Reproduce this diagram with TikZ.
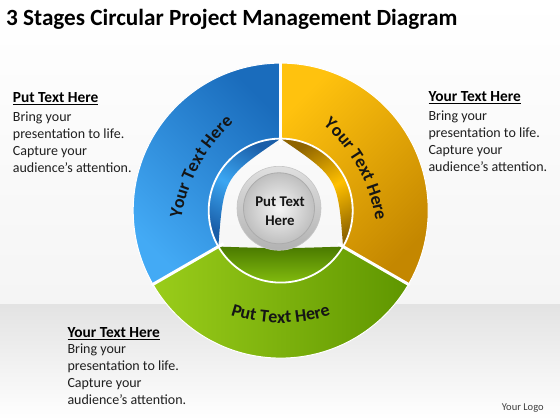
\documentclass[tikz,border=0pt]{standalone}
\usepackage{fontspec}
\setmainfont{Carlito}
\usetikzlibrary{decorations.text,calc}
\definecolor{blueL}{HTML}{43AAF5}
\definecolor{blueD}{HTML}{1A6CBC}
\definecolor{orangeL}{HTML}{FFC20E}
\definecolor{orangeD}{HTML}{C48700}
\definecolor{greenL}{HTML}{9ACD1A}
\definecolor{greenD}{HTML}{5F9600}
\definecolor{blueID}{HTML}{1A5EA8}
\definecolor{blueIL}{HTML}{3BA6F2}
\definecolor{orangeID}{HTML}{8F6400}
\definecolor{orangeIL}{HTML}{FFC000}
\definecolor{greenID}{HTML}{4A7A00}
\definecolor{greenIL}{HTML}{92CE12}
\definecolor{txt}{HTML}{151515}
\newcommand\segfont{\fontsize{18}{21}\selectfont\bfseries}
\begin{document}
\begin{tikzpicture}[x=1pt,y=1pt,
  headtxt/.style={anchor=base west, inner sep=0, font=\fontsize{15.4}{18}\selectfont\bfseries},
  bodytxt/.style={anchor=base west, inner sep=0, font=\fontsize{14}{17}\selectfont, text=black!88},
  centertxt/.style={anchor=base, inner sep=0, font=\fontsize{14.8}{17}\selectfont\bfseries, text=txt},
  gapline/.style={white, line width=3},
  segtext/.style={decorate, decoration={text along path, text align=center, text color=txt}}
]
\useasboundingbox (0,0) rectangle (560,420);
\shade[top color=white, bottom color=gray!8] (0,115) rectangle (560,420);
\shade[top color=gray!22, bottom color=white] (0,0) rectangle (560,115);

% title
\node[anchor=base west, inner sep=0, font=\fontsize{23.2}{27}\selectfont\bfseries] (title) at (6,394.3) {3 Stages Circular Project Management Diagram};

\begin{scope}[shift={(280.7,209.4)}]
  % outer segments
  \shade[top color=blueD, bottom color=blueL, shading angle=-45]
    (90:147.5) arc[start angle=90, end angle=210, radius=147.5] -- (210:72) arc[start angle=210, end angle=90, radius=72] -- cycle;
  \shade[top color=orangeL, bottom color=orangeD, shading angle=45]
    (90:147.5) arc[start angle=90, end angle=-30, radius=147.5] -- (-30:72) arc[start angle=-30, end angle=90, radius=72] -- cycle;
  \shade[left color=greenL, right color=greenD]
    (210:147.5) arc[start angle=210, end angle=330, radius=147.5] -- (330:72) arc[start angle=330, end angle=210, radius=72] -- cycle;
  % inner segments
  \shade[top color=blueID, bottom color=blueID, middle color=blueIL, shading angle=-30]
    (90:72) arc[start angle=90, end angle=210, radius=72] .. controls (150:66) .. (90:72) -- cycle;
  \shade[top color=orangeID, bottom color=orangeID, middle color=orangeIL, shading angle=30]
    (330:72) arc[start angle=330, end angle=450, radius=72] .. controls (30:66) .. (330:72) -- cycle;
  \shade[top color=greenID, bottom color=greenIL]
    (210:72) arc[start angle=210, end angle=330, radius=72] .. controls (270:38) .. (210:72) -- cycle;
  % white separators
  \draw[gapline] (90:66) -- (90:149);
  \draw[gapline] (210:66) -- (210:149);
  \draw[gapline] (330:66) -- (330:149);
  \draw[white, line width=1.8] (0,0) circle[radius=72];
  \draw[white, line width=1] (0,0) circle[radius=147.5];
  % curved segment texts
  \path[segtext, decoration={text={|\segfont|Your Text Here}}]
    ($(331.5:67)+(171.5:160)$) arc[start angle=171.5, end angle=131.5, radius=160];
  \path[segtext, decoration={text={|\segfont|Your Text Here}}]
    ($(208.7:72)+(48.7:160)$) arc[start angle=48.7, end angle=8.7, radius=160];
  \path[segtext, decoration={text={|\segfont|Put Text Here}}]
    ($(0,47.6)+(250:160)$) arc[start angle=250, end angle=290, radius=160];
  % center button
  \shade[top color=gray!25, bottom color=gray!60] (-1.7,2.3) circle[radius=42];
  \draw[gray!45, line width=0.6] (-1.7,2.3) circle[radius=42];
  \shade[inner color=gray!8, outer color=gray!50] (-1.7,2.3) circle[radius=35.5];
  \draw[gray!65, line width=0.8] (-1.7,2.3) circle[radius=35.5];
\end{scope}

\node[centertxt] (c1) at (280,213.3) {Put Text};
\node[centertxt] (c2) at (280,194.7) {Here};

% left block
\node[headtxt] (lh) at (12.7,317.5) {\underline{Put Text Here}};
\node[bodytxt] (l1) at (12.7,298.5) {Bring your};
\node[bodytxt] (l2) at (12.7,281.5) {presentation to life.};
\node[bodytxt] (l3) at (12.7,264.5) {Capture your};
\node[bodytxt] (l4) at (12.7,247.5) {audience’s attention.};
% right block
\node[headtxt] (rh) at (428.3,318) {\underline{Your Text Here}};
\node[bodytxt] (r1) at (428.3,299.3) {Bring your};
\node[bodytxt] (r2) at (428.3,282.3) {presentation to life.};
\node[bodytxt] (r3) at (428.3,265.3) {Capture your};
\node[bodytxt] (r4) at (428.3,248.3) {audience’s attention.};
% bottom block
\node[headtxt] (bh) at (67.3,82.7) {\underline{Your Text Here}};
\node[bodytxt] (b1) at (67.3,66) {Bring your};
\node[bodytxt] (b2) at (67.3,49) {presentation to life.};
\node[bodytxt] (b3) at (67.3,32) {Capture your};
\node[bodytxt] (b4) at (67.3,15) {audience’s attention.};

\node[anchor=base west, inner sep=0, font=\fontsize{10.5}{12}\selectfont, text=black!75] (logo) at (501.7,9) {Your Logo};
\end{tikzpicture}
\end{document}
